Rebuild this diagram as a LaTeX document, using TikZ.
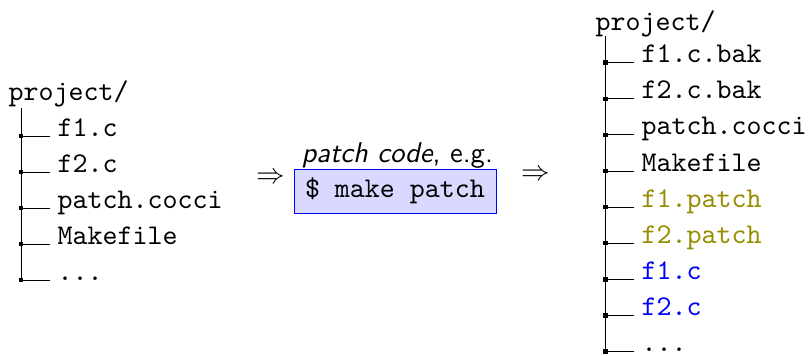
\documentclass[tikz,border=0pt]{standalone}
\usepackage{tikz}
\usetikzlibrary{positioning}
\definecolor{patcholive}{RGB}{150, 140, 0}
\newcommand{\treedots}{...}
\tikzset{
    treeitem/.style={anchor=base west, inner sep=0pt, font=\ttfamily},
    branch/.style={line width=0.3pt},
    junction/.style={fill, inner sep=0pt, minimum size=1.6pt},
    cmdbox/.style={draw=blue, line width=0.3pt, fill=blue!15, inner sep=0pt, minimum width=70.7pt, minimum height=15.4pt, font=\ttfamily}
}

\begin{document}
\begin{tikzpicture}[x=0.35pt, y=-0.35pt]
    \useasboundingbox (0,0) rectangle (810,355);

    % tree before
    \node[treeitem] (lroot) at (8,100) {project/};
    \coordinate (lspine) at (21,108);
    \foreach \f [count=\i] in {f1.c, f2.c, patch.cocci, Makefile, \treedots} {
        \node[treeitem] (l\i) at (57, {100+36*\i}) {\f};
        \draw[branch] (lspine |- l\i.base) -- ([xshift=-2.45pt]l\i.base west);
        \node[junction] (lj\i) at (lspine |- l\i.base) {};
    }
    \draw[branch] (lspine) -- (lspine |- l5.base);

    % patch step
    \node (arrin) at (271,178) {$\Rightarrow$};
    \node[cmdbox] (cmd) at (395,191) {\$ make patch};
    \node[anchor=south east, inner sep=0pt, font=\sffamily] (hint) at ([xshift=-1pt]cmd.north east) {\textit{patch code}, e.g.};
    \node (arrout) at (536,175) {$\Rightarrow$};

    % tree after
    \node[treeitem] (rroot) at (595,30) {project/};
    \coordinate (rspine) at (605.7,36);
    \foreach \f/\c [count=\i] in {f1.c.bak/black, f2.c.bak/black, patch.cocci/black, Makefile/black,
        f1.patch/patcholive, f2.patch/patcholive, f1.c/blue, f2.c/blue, \treedots/black} {
        \node[treeitem, text=\c] (r\i) at (641, {26.6+36.1*\i}) {\f};
        \draw[branch] (rspine |- r\i.base) -- ([xshift=-2.45pt]r\i.base west);
        \node[junction] (rj\i) at (rspine |- r\i.base) {};
    }
    \draw[branch] (rspine) -- (rspine |- r9.base);
\end{tikzpicture}
\end{document}
